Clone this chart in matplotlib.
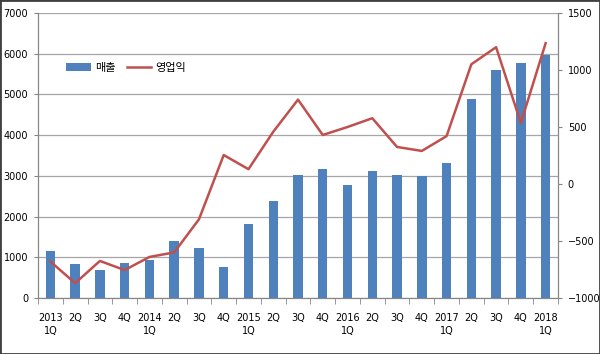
import matplotlib
matplotlib.use("Agg")
import matplotlib.pyplot as plt
import numpy as np
from matplotlib.patches import Rectangle

plt.rcParams['font.family'] = ['DejaVu Sans', 'Noto Sans CJK KR']

labels = ["2013\n1Q", "2Q", "3Q", "4Q", "2014\n1Q", "2Q", "3Q", "4Q",
          "2015\n1Q", "2Q", "3Q", "4Q", "2016\n1Q", "2Q", "3Q", "4Q",
          "2017\n1Q", "2Q", "3Q", "4Q", "2018\n1Q"]
sales = [1155, 835, 690, 860, 930, 1400, 1230, 760,
         1820, 2380, 3020, 3180, 2780, 3120, 3020, 2990,
         3310, 4900, 5600, 5760, 5970]
op_profit = [-680, -870, -675, -755, -640, -600, -310, 254,
             130, 458, 740, 430, 500, 577, 325, 290,
             420, 1050, 1200, 535, 1235]

fig = plt.figure(figsize=(6, 3.54), dpi=100)
ax = fig.add_axes([38/600, 1-298/354, 520/600, 285/354])
ax2 = ax.twinx()

x = np.arange(len(labels))
b = ax.bar(x, sales, width=0.38, color="#4F81BD", zorder=2, label="매출")
l, = ax2.plot(x, op_profit, color="#C0504D", lw=1.8, zorder=3, label="영업익")

ax.set_xlim(-0.5, len(labels) - 0.5)
ax.set_ylim(0, 7000)
ax2.set_ylim(-1000, 1500)
ax.set_yticks(np.arange(0, 7001, 1000))
ax2.set_yticks(np.arange(-1000, 1501, 500))
ax.yaxis.grid(True, color="#A6A6A6", lw=0.9)
ax.set_axisbelow(True)

ax.set_xticks(x)
ax.set_xticklabels(labels, fontsize=7, linespacing=1.35)
ax.set_xticks(np.arange(-0.5, len(labels), 1), minor=True)
ax.tick_params(axis='x', which='major', length=0, pad=11)
ax.tick_params(axis='x', which='minor', length=4, color="#868686")
ax.tick_params(axis='y', labelsize=7, length=3, color="#868686", pad=4)
ax2.tick_params(axis='y', labelsize=7, length=3, color="#868686", pad=4)

for a in (ax, ax2):
    a.spines['top'].set_visible(False)
    for s in ('left', 'right', 'bottom'):
        a.spines[s].set_color("#868686")

ax.set_zorder(1)
ax2.set_zorder(2)
ax2.patch.set_visible(False)

leg = ax2.legend([b, l], ["매출", "영업익"], loc="upper left",
                 bbox_to_anchor=(0.035, 0.86), ncol=2, frameon=False,
                 prop={'family': ['Noto Sans CJK KR', 'DejaVu Sans'], 'size': 8},
                 handlelength=2.2, columnspacing=1.0, handletextpad=0.4)

fig.patches.append(Rectangle((0, 0), 1, 1, transform=fig.transFigure,
                             fill=False, edgecolor="#404040", lw=2))
fig.savefig("out.png", dpi=100)
